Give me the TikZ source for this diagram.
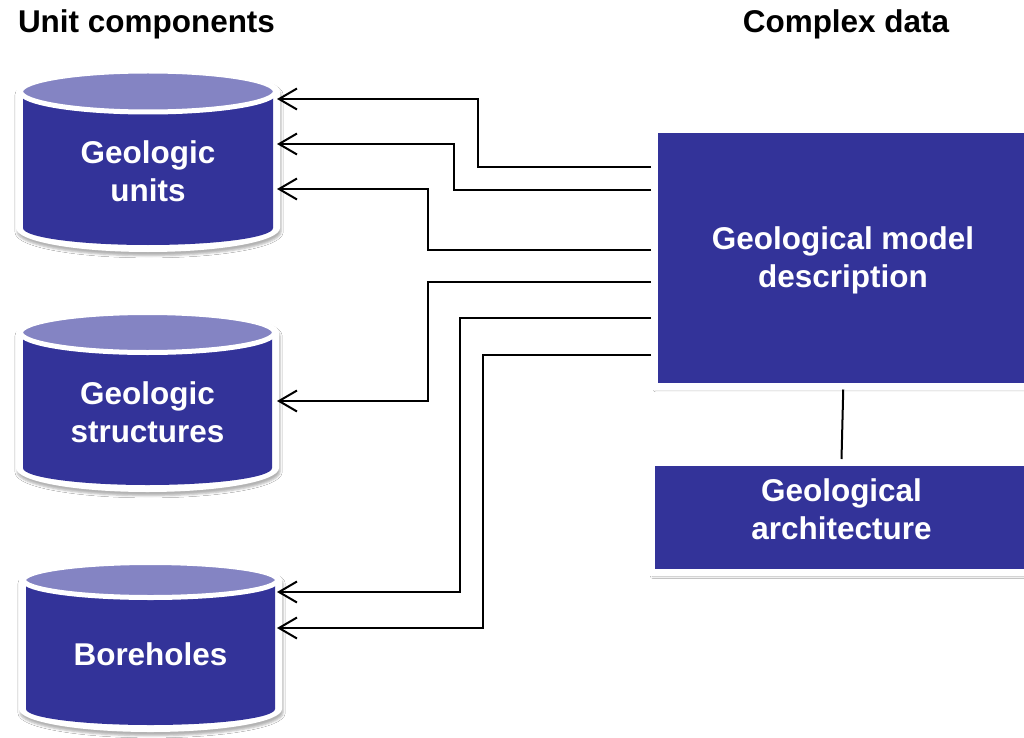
\documentclass[tikz,border=0pt]{standalone}
\usepackage{fontspec}
\setmainfont{Liberation Sans}
\usetikzlibrary{arrows.meta,shadows.blur,calc}
\definecolor{boxblue}{RGB}{51,51,153}
\definecolor{topblue}{RGB}{132,132,195}
\tikzset{
  softshadow/.style={blur shadow={shadow xshift=0.8pt, shadow yshift=-2.8pt, shadow blur radius=1.6pt, shadow opacity=30}},
  bigtext/.style={text=white, font=\bfseries\fontsize{23.6}{28.5}\selectfont, align=center, inner sep=0pt, outer sep=0pt},
  titletext/.style={text=black, font=\bfseries\fontsize{23.6}{28.5}\selectfont, inner sep=0pt, outer sep=0pt},
  bluebox/.style={rectangle, fill=boxblue, draw=white, line width=5.25pt, softshadow, inner sep=0pt},
  arr/.style={draw=black, line width=1.5pt, -{Straight Barb[length=13.5pt, width=15.75pt]}},
  conn/.style={draw=black, line width=1.5pt},
}
\newcommand{\cylshape}[6]{% cx, ytop, ybottom, rx, ry top, ry bottom
  \path[fill=white, softshadow] ({#1-#4-7},#2) arc[start angle=180, end angle=360, x radius={#4+7}, y radius={#5+7}]
     -- ({#1+#4+7},#3) arc[start angle=0, end angle=180, x radius={#4+7}, y radius={#6+7}] -- cycle;
  \path[fill=boxblue] ({#1-#4},#2) -- ({#1-#4},#3) arc[start angle=180, end angle=0, x radius=#4, y radius=#6]
     -- ({#1+#4},#2) -- cycle;
  \path[fill=topblue, draw=white, line width=3.75pt] (#1,#2) ellipse[x radius={#4+2.5}, y radius={#5+2.5}];
}
\begin{document}
\begin{tikzpicture}[x=0.75pt, y=-0.75pt]
\fill[white] (0,0) rectangle (1024,738);
\useasboundingbox (0,0) rectangle (1024,738);

% titles
\node[titletext, anchor=base] (tleft) at (146.5,33) {Unit components};
\node[titletext, anchor=base] (tright) at (846,33) {Complex data};

% cylinders
\cylshape{148}{91.5}{228}{125}{18}{17}
\cylshape{147.5}{332.5}{468}{124.5}{17.5}{17}
\cylshape{150.5}{580}{709}{124.5}{15}{16}
\node[bigtext, minimum width=193.5pt] (units) at (148,171) {Geologic\\units};
\node[bigtext, minimum width=194.25pt] (structures) at (147.5,412) {Geologic\\structures};
\node[bigtext, minimum width=189.75pt] (boreholes) at (150.5,654) {Boreholes};

% boxes
\node[bluebox, minimum width=283.125pt, minimum height=192.375pt] (main) at (843.25,257.75) {};
\node[bigtext] (maintext) at (843,260) {Geological model\\description};
\node[bluebox, minimum width=285pt, minimum height=82.5pt] (arch) at (841.5,517.5) {};
\node[bigtext] (archtext) at (841.5,509.5) {Geological\\architecture};

% connectors
\draw[arr] (main.west |- 0,167) -| (478,99) -- (units.east |- 0,99);
\draw[arr] (main.west |- 0,190) -| (454,144) -- (units.east |- 0,144);
\draw[arr] (main.west |- 0,250) -| (428,189) -- (units.east |- 0,189);
\draw[arr] (main.west |- 0,282) -| (428,401) -- (structures.east |- 0,401);
\draw[arr] (main.west |- 0,318) -| (460,592) -- (boreholes.east |- 0,592);
\draw[arr] (main.west |- 0,355) -| (483,628) -- (boreholes.east |- 0,628);
\draw[conn] (main.south) -- (arch.north);
\end{tikzpicture}
\end{document}
